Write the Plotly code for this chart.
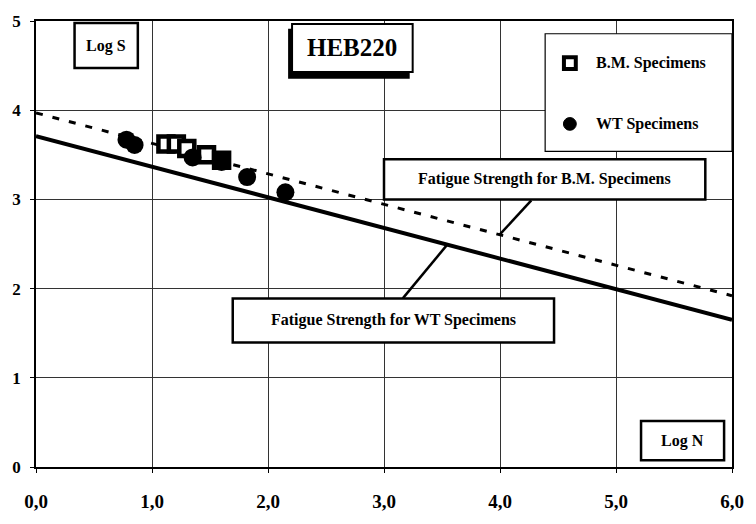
import numpy as np
import plotly.graph_objects as go

# ---- data ----
bm_x = [1.12, 1.21, 1.30, 1.47, 1.60]
bm_y = [3.62, 3.62, 3.57, 3.50, 3.44]
wt_x = [0.78, 0.85, 1.35, 1.60, 1.82, 2.15]
wt_y = [3.67, 3.61, 3.47, 3.42, 3.25, 3.08]
bm_line_x = [0.0, 6.0]
bm_line_y = [3.97, 1.92]
wt_line_x = [0.0, 6.0]
wt_line_y = [3.71, 1.65]
x_tick_vals = [0, 1, 2, 3, 4, 5, 6]
x_tick_text = ["0,0", "1,0", "2,0", "3,0", "4,0", "5,0", "6,0"]
y_tick_vals = [0, 1, 2, 3, 4, 5]
y_tick_text = ["0", "1", "2", "3", "4", "5"]

W, H = 756, 524
L, R, T, B = 36, 740, 20, 475
FONT = "Liberation Serif"


def px(p):  # pixel x -> paper
    return (p - L) / (R - L)


def py(p):  # pixel y -> paper
    return (B - p) / (B - T)


def dx(p):  # pixel x -> data
    return (p - L) / (R - L) * 6.0


def dy(p):  # pixel y -> data
    return (B - p) / (B - T) * 5.0


fig = go.Figure()
fig.add_trace(go.Scatter(x=bm_line_x, y=bm_line_y, mode="lines",
                         line=dict(color="black", width=3, dash="7px,10px"),
                         showlegend=False, hoverinfo="skip"))
fig.add_trace(go.Scatter(x=wt_line_x, y=wt_line_y, mode="lines",
                         line=dict(color="black", width=4),
                         showlegend=False, hoverinfo="skip"))
fig.add_trace(go.Scatter(x=bm_x, y=bm_y, mode="markers", name="B.M. Specimens",
                         marker=dict(symbol="square", size=15, color="white",
                                     line=dict(color="black", width=4.5)),
                         showlegend=False))
fig.add_trace(go.Scatter(x=wt_x, y=wt_y, mode="markers", name="WT Specimens",
                         marker=dict(symbol="circle", size=18, color="black"),
                         showlegend=False))

shapes = []
annotations = []


def box(x0, y0, x1, y1, width=2):
    shapes.append(dict(type="rect", xref="paper", yref="paper",
                       x0=px(x0), x1=px(x1), y0=py(y1), y1=py(y0),
                       line=dict(color="black", width=width), fillcolor="white"))


def text(xc, yc, s, size, xanchor="center"):
    annotations.append(dict(xref="paper", yref="paper", x=px(xc), y=py(yc),
                            text=s, showarrow=False, xanchor=xanchor, yanchor="middle",
                            font=dict(family=FONT, size=size, color="black", weight="bold")))


# leader lines
bm_anchor_x = dx(505)
bm_anchor_y = float(np.interp(bm_anchor_x, bm_line_x, bm_line_y))
shapes.append(dict(type="line", xref="x", yref="y", x0=bm_anchor_x, y0=bm_anchor_y,
                   x1=dx(537), y1=dy(203), line=dict(color="black", width=2.5)))
wt_anchor_x = dx(452)
wt_anchor_y = float(np.interp(wt_anchor_x, wt_line_x, wt_line_y))
shapes.append(dict(type="line", xref="x", yref="y", x0=wt_anchor_x, y0=wt_anchor_y,
                   x1=dx(407), y1=dy(303), line=dict(color="black", width=2.5)))

# Log S box
box(75, 22, 139, 68, 2.5)
text(107, 45, "Log S", 16)

# HEB220 box with shadow
shapes.append(dict(type="rect", xref="paper", yref="paper",
                   x0=px(291), x1=px(414), y0=py(79), y1=py(28),
                   line=dict(width=0), fillcolor="black"))
box(295, 23, 417, 72, 2)
text(356, 47, "HEB220", 25)

# Log N box
box(648, 428, 732, 468, 2.5)
text(690, 448, "Log N", 16)

# legend box
box(551, 33, 740, 153, 1.2)
shapes.append(dict(type="rect", xref="paper", yref="paper",
                   x0=px(570), x1=px(582), y0=py(69), y1=py(57),
                   line=dict(color="black", width=4), fillcolor="white"))
shapes.append(dict(type="circle", xref="paper", yref="paper",
                   x0=px(569.5), x1=px(582.5), y0=py(131.5), y1=py(118.5),
                   line=dict(color="black", width=1), fillcolor="black"))
text(600, 63, "B.M. Specimens", 16, "left")
text(600, 125, "WT Specimens", 16, "left")

# annotation boxes
box(388, 161, 713, 202, 2.5)
text(550.5, 181.5, "Fatigue Strength for B.M. Specimens", 16)
box(235, 303, 560, 348, 2.5)
text(397.5, 325.5, "Fatigue Strength for WT Specimens", 16)

fig.update_layout(
    width=W, height=H, autosize=False,
    margin=dict(l=L, r=W - R, t=T, b=H - B, pad=0),
    paper_bgcolor="white", plot_bgcolor="white",
    showlegend=False,
    shapes=shapes, annotations=annotations,
    xaxis=dict(range=[0, 6], tickvals=x_tick_vals, ticktext=x_tick_text,
               showgrid=True, gridcolor="#333", gridwidth=1,
               showline=True, linecolor="black", linewidth=1.5, mirror=True,
               ticks="outside", ticklen=4, tickcolor="black",
               ticklabelstandoff=12, zeroline=False,
               tickfont=dict(family=FONT, size=19, color="black", weight="bold")),
    yaxis=dict(range=[0, 5], tickvals=y_tick_vals, ticktext=y_tick_text,
               showgrid=True, gridcolor="#333", gridwidth=1,
               showline=True, linecolor="black", linewidth=1.5, mirror=True,
               ticks="outside", ticklen=4, tickcolor="black",
               ticklabelstandoff=6, zeroline=False,
               tickfont=dict(family=FONT, size=17, color="black", weight="bold")),
)

fig.write_html("out.html")
